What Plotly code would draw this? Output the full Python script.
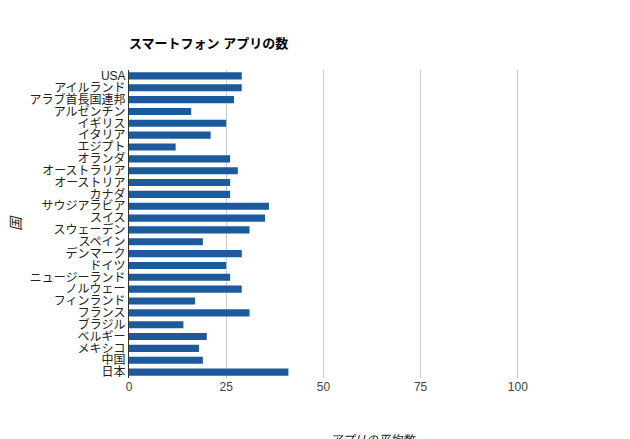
import plotly.graph_objects as go

paises = ["USA", "アイルランド", "アラブ首長国連邦", "アルゼンチン", "イギリス", "イタリア", "エジプト",
          "オランダ", "オーストラリア", "オーストリア", "カナダ", "サウジアラビア", "スイス", "スウェーデン",
          "スペイン", "デンマーク", "ドイツ", "ニュージーランド", "ノルウェー", "フィンランド", "フランス",
          "ブラジル", "ベルギー", "メキシコ", "中国", "日本"]
apps = [29, 29, 27, 16, 25, 21, 12, 26, 28, 26, 26, 36, 35, 31, 19, 29, 25, 26, 29, 17, 31,
        14, 20, 18, 19, 41]
ticks_x = [0, 25, 50, 75, 100]

fig = go.Figure(go.Bar(x=apps, y=paises, orientation="h", marker_color="#1c5a9c",
                       marker_line_width=0, width=0.6))

fig.update_layout(
    width=630, height=439,
    margin=dict(l=121, r=23, t=62, b=69, autoexpand=False),
    paper_bgcolor="white", plot_bgcolor="white",
    font=dict(family="Liberation Sans, Noto Sans CJK JP", size=12, color="#222"),
    title=dict(text="<b>スマートフォン アプリの数</b>", x=121/630, xanchor="left",
               y=1-35/439, yanchor="middle", font=dict(size=13, color="black")),
    showlegend=False,
)
fig.update_xaxes(range=[0, 125], tickvals=ticks_x, showgrid=True, gridcolor="#cccccc",
                 zeroline=False, showline=False, tickfont=dict(color="#444"), automargin=False,
                 title=dict(text="<i>アプリの平均数</i>", standoff=45, font=dict(size=12, color="#222")))
fig.update_yaxes(autorange="reversed", showline=True, linecolor="#333", ticks="",
                 tickmode="array", tickvals=paises, ticktext=paises, automargin=False,
                 tickfont=dict(size=12, color="#222"),
                 title=dict(text="<i>国</i>", standoff=100))

fig.write_html("out.html")
